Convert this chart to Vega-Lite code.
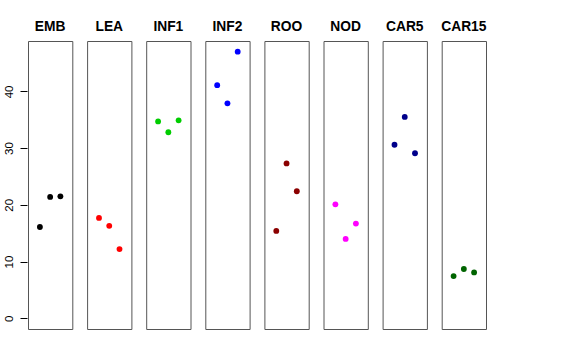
{
  "$schema": "https://vega.github.io/schema/vega-lite/v6.json",
  "padding": {"left": 3, "top": 20, "right": 0, "bottom": 0},
  "background": "white",
  "data": {"values": [
    {"g": "EMB", "x": 1, "y": 16.1}, {"g": "EMB", "x": 2, "y": 21.4}, {"g": "EMB", "x": 3, "y": 21.5},
    {"g": "LEA", "x": 1, "y": 17.7}, {"g": "LEA", "x": 2, "y": 16.3}, {"g": "LEA", "x": 3, "y": 12.2},
    {"g": "INF1", "x": 1, "y": 34.7}, {"g": "INF1", "x": 2, "y": 32.8}, {"g": "INF1", "x": 3, "y": 34.9},
    {"g": "INF2", "x": 1, "y": 41.1}, {"g": "INF2", "x": 2, "y": 37.9}, {"g": "INF2", "x": 3, "y": 47.0},
    {"g": "ROO", "x": 1, "y": 15.4}, {"g": "ROO", "x": 2, "y": 27.3}, {"g": "ROO", "x": 3, "y": 22.4},
    {"g": "NOD", "x": 1, "y": 20.1}, {"g": "NOD", "x": 2, "y": 14.0}, {"g": "NOD", "x": 3, "y": 16.7},
    {"g": "CAR5", "x": 1, "y": 30.6}, {"g": "CAR5", "x": 2, "y": 35.5}, {"g": "CAR5", "x": 3, "y": 29.1},
    {"g": "CAR15", "x": 1, "y": 7.45}, {"g": "CAR15", "x": 2, "y": 8.7}, {"g": "CAR15", "x": 3, "y": 8.1}
  ]},
  "facet": {
    "column": {
      "field": "g", "type": "nominal",
      "sort": ["EMB", "LEA", "INF1", "INF2", "ROO", "NOD", "CAR5", "CAR15"],
      "header": {"title": null, "labelFont": "Liberation Sans", "labelFontWeight": "bold", "labelFontSize": 13.8, "labelPadding": 6, "labelColor": "black"}
    }
  },
  "spacing": 13.1,
  "spec": {
    "width": 44.3,
    "height": 288,
    "mark": {"type": "circle", "size": 34, "opacity": 1},
    "encoding": {
      "x": {"field": "x", "type": "quantitative", "scale": {"domain": [-0.16, 4.16], "nice": false, "zero": false}, "axis": null},
      "y": {"field": "y", "type": "quantitative", "scale": {"domain": [-1.88, 48.88], "nice": false, "zero": false},
        "axis": {"values": [0, 10, 20, 30, 40], "title": null, "grid": false, "domain": false, "tickColor": "black", "tickSize": 7,
          "labelAngle": -90, "labelAlign": "center", "labelBaseline": "bottom", "labelPadding": 6,
          "labelFont": "Liberation Sans", "labelFontSize": 11.5, "labelColor": "black"}},
      "color": {"field": "g", "type": "nominal",
        "scale": {"domain": ["EMB", "LEA", "INF1", "INF2", "ROO", "NOD", "CAR5", "CAR15"],
          "range": ["#000000", "#FF0000", "#00CD00", "#0000FF", "#8B0000", "#FF00FF", "#00008B", "#006400"]},
        "legend": null}
    }
  },
  "config": {"view": {"stroke": "#555555", "strokeWidth": 1}}
}
